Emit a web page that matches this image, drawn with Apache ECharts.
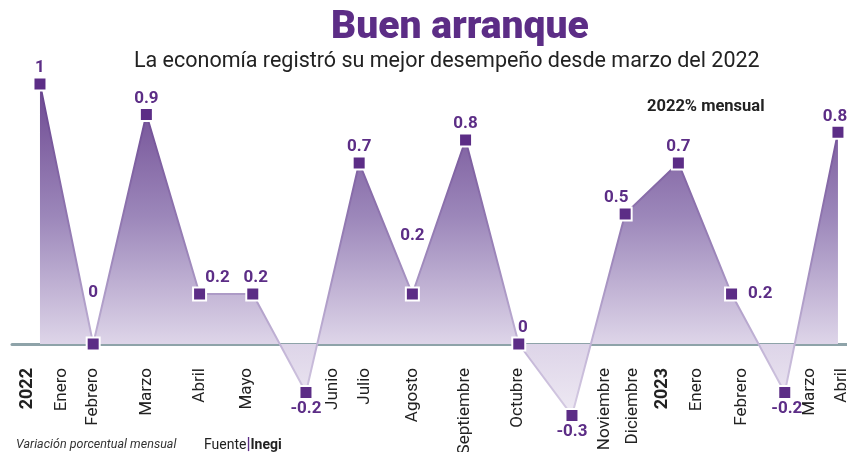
<!DOCTYPE html>
<html>
<head>
<meta charset="utf-8">
<script src="https://cdn.jsdelivr.net/npm/echarts@6/dist/echarts.min.js"></script>
<style>
  html, body { margin: 0; padding: 0; background: #fff; }
  #chart { width: 847px; height: 452px; }
</style>
</head>
<body>
<div id="chart"></div>
<script>
// variación porcentual mensual, ene 2022 - abr 2023
const months = ['Ene 22', 'Feb 22', 'Mar 22', 'Abr 22', 'May 22', 'Jun 22', 'Jul 22', 'Ago 22',
  'Sep 22', 'Oct 22', 'Nov 22', 'Dic 22', 'Ene 23', 'Feb 23', 'Mar 23', 'Abr 23']
const values = [1.02, 0, 0.90, 0.196, 0.196, -0.19, 0.71, 0.196, 0.80, 0, -0.28, 0.51, 0.71, 0.196, -0.19, 0.83]

// etiquetas del eje (rotadas) y su posición en unidades de mes
const tickLabels = ['2022', 'Enero', 'Febrero', 'Marzo', 'Abril', 'Mayo', 'Junio', 'Julio', 'Agosto',
  'Septiembre', 'Octubre', 'Noviembre', 'Diciembre', '2023', 'Enero', 'Febrero', 'Marzo', 'Abril']
const tickPos = [-0.24, 0.41, 1.0, 2.0, 3.0, 3.89, 5.5, 6.1, 7.0, 7.99, 8.98, 10.62, 11.15, 11.71, 12.35, 13.2, 14.47, 15.08]

const PURPLE = '#5c2d86'
const FONT = 'Roboto, "Noto Sans", sans-serif'

// ajustes de etiqueta por punto
const labelTweaks = {
  1: { offset: [0, -35] },
  3: { offset: [18, 0] },
  4: { offset: [3, 0] },
  5: { position: 'bottom' },
  7: { offset: [0, -42] },
  9: { offset: [4, 0] },
  10: { position: 'bottom' },
  11: { offset: [-9, 0] },
  13: { position: 'right', distance: 9 },
  14: { position: 'bottom', offset: [2, 0] },
  15: { offset: [-3, 0] }
}

const chart = echarts.init(document.getElementById('chart'), null, { renderer: 'canvas' })

const seriesData = values.map((v, i) => ({
  value: [i, v],
  name: months[i],
  label: Object.assign({}, labelTweaks[i] || {})
}))

const option = {
  backgroundColor: '#fff',
  animation: false,
  title: [
    {
      text: 'Buen arranque',
      left: 326,
      top: 4,
      textStyle: { color: PURPLE, fontSize: 39, fontWeight: 900, fontFamily: FONT }
    },
    {
      text: 'La economía registró su mejor desempeño desde marzo del 2022',
      left: 129,
      top: 46,
      textStyle: { color: '#222', fontSize: 21.5, fontWeight: 'normal', fontFamily: FONT }
    },
    {
      text: '2022% mensual',
      left: 642,
      top: 93,
      textStyle: { color: '#222', fontSize: 16.5, fontWeight: 'bold', fontFamily: FONT }
    },
    {
      text: 'Variación porcentual mensual',
      left: 11,
      top: 433,
      textStyle: { color: '#333', fontSize: 12.5, fontStyle: 'italic', fontWeight: 'normal', fontFamily: FONT }
    },
    {
      text: '{a|Fuente}{b||}{c|Inegi}',
      left: 199,
      top: 432,
      textStyle: {
        fontWeight: 'normal',
        rich: {
          a: { color: '#222', fontSize: 14, fontWeight: 'normal', fontFamily: FONT },
          b: { color: PURPLE, fontSize: 16, fontWeight: 'bold', fontFamily: FONT },
          c: { color: '#222', fontSize: 14, fontWeight: 'bold', fontFamily: FONT }
        }
      }
    }
  ],
  grid: { left: 12, right: 0, top: 63.5, bottom: 6, outerBoundsMode: 'none', containLabel: false },
  xAxis: [
    {
      type: 'value',
      min: -0.526,
      max: 15.17,
      axisLine: { onZero: true, lineStyle: { color: '#8ea3a9', width: 3 } },
      axisTick: { show: false },
      axisLabel: { show: false },
      splitLine: { show: false }
    },
    {
      type: 'value',
      min: -0.526,
      max: 15.17,
      position: 'bottom',
      offset: -84,
      axisLine: { show: false },
      axisTick: { show: false },
      splitLine: { show: false },
      axisLabel: {
        rotate: 90,
        margin: 6,
        customValues: tickPos,
        hideOverlap: false,
        color: '#222',
        fontSize: 17,
        fontFamily: FONT,
        formatter: (val) => {
          let k = 0
          tickPos.forEach((p, i) => { if (Math.abs(p - val) < Math.abs(tickPos[k] - val)) k = i })
          const t = tickLabels[k]
          return /^\d{4}$/.test(t) ? '{y|' + t + '}' : t
        },
        rich: {
          y: { fontWeight: 'bold', fontSize: 18, color: '#222', fontFamily: FONT }
        }
      }
    }
  ],
  yAxis: {
    type: 'value',
    min: -0.4,
    max: 1.1,
    show: false,
    splitLine: { show: false }
  },
  series: [
    {
      type: 'line',
      xAxisIndex: 0,
      data: seriesData,
      clip: false,
      symbol: 'rect',
      symbolSize: 13,
      itemStyle: { color: PURPLE, borderColor: '#fff', borderWidth: 2 },
      lineStyle: {
        width: 2,
        color: new echarts.graphic.LinearGradient(0, 0, 0, 1, [
          { offset: 0, color: '#65408c' },
          { offset: 0.5, color: '#9a83b8' },
          { offset: 0.78, color: '#c2b4d6' },
          { offset: 1, color: '#d6cce3' }
        ])
      },
      areaStyle: {
        opacity: 1,
        color: new echarts.graphic.LinearGradient(0, 0, 0, 1, [
          { offset: 0, color: '#6d4891' },
          { offset: 0.4, color: '#9c87ba' },
          { offset: 0.78, color: '#ddd4e8' },
          { offset: 1, color: '#eee9f3' }
        ])
      },
      label: {
        show: true,
        position: 'top',
        distance: 0,
        color: PURPLE,
        fontSize: 17,
        fontWeight: 'bold',
        fontFamily: FONT,
        formatter: (p) => String(Math.round(p.value[1] * 10) / 10)
      },
      z: 3
    }
  ]
}

chart.setOption(option)
window.addEventListener('resize', () => chart.resize())
</script>
</body>
</html>
